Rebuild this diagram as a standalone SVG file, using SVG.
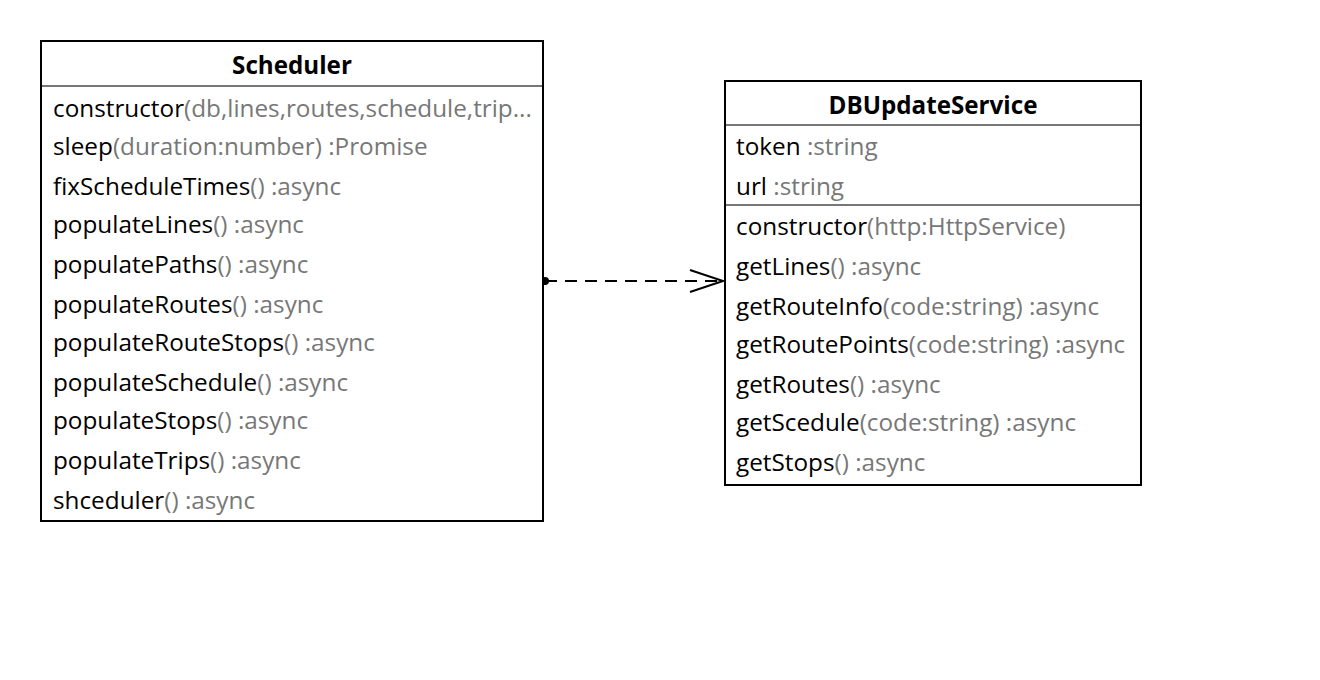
<svg xmlns="http://www.w3.org/2000/svg" width="1320" height="680" viewBox="0 0 1320 680">
<defs>
<style>
.box{fill:#fff;stroke:#000;stroke-width:2}
.sep{stroke:#777;stroke-width:2}
.t{font-family:"Open Sans","Noto Sans",sans-serif;font-size:24.3px;fill:#000}
.title{font-family:"Open Sans","Noto Sans",sans-serif;font-size:24.2px;font-weight:bold;fill:#000;text-anchor:middle}
.g{fill:#777}
</style>
<marker id="open" markerWidth="40" markerHeight="30" refX="34" refY="12" orient="auto" markerUnits="userSpaceOnUse">
<path d="M1,1 L34,12 L1,23" fill="none" stroke="#000" stroke-width="2"/>
</marker>
</defs>
<rect width="1320" height="680" fill="#fff"/>
<g id="connectors">
<path d="M545,281 L723,281" fill="none" stroke="#000" stroke-width="2" stroke-dasharray="12,8" marker-end="url(#open)"/>
<circle cx="545" cy="281" r="4" fill="#000"/>
</g>
<g id="Scheduler">
<rect class="box" x="41" y="41" width="502" height="480"/>
<line class="sep" x1="42" y1="86" x2="542" y2="86"/>
<text class="title" x="292" y="74">Scheduler</text>
<text class="t" x="53" y="117">constructor<tspan class="g">(db,lines,routes,schedule,trip...</tspan></text>
<text class="t" x="53" y="155">sleep<tspan class="g">(duration:number) :Promise</tspan></text>
<text class="t" x="53" y="195">fixScheduleTimes<tspan class="g">() :async</tspan></text>
<text class="t" x="53" y="233">populateLines<tspan class="g">() :async</tspan></text>
<text class="t" x="53" y="273">populatePaths<tspan class="g">() :async</tspan></text>
<text class="t" x="53" y="313">populateRoutes<tspan class="g">() :async</tspan></text>
<text class="t" x="53" y="351">populateRouteStops<tspan class="g">() :async</tspan></text>
<text class="t" x="53" y="391">populateSchedule<tspan class="g">() :async</tspan></text>
<text class="t" x="53" y="429">populateStops<tspan class="g">() :async</tspan></text>
<text class="t" x="53" y="469">populateTrips<tspan class="g">() :async</tspan></text>
<text class="t" x="53" y="509">shceduler<tspan class="g">() :async</tspan></text>
</g>
<g id="DBUpdateService">
<rect class="box" x="725" y="81" width="416" height="404"/>
<line class="sep" x1="726" y1="125" x2="1140" y2="125"/>
<line class="sep" x1="726" y1="205" x2="1140" y2="205"/>
<text class="title" x="933" y="114">DBUpdateService</text>
<text class="t" x="736" y="155">token<tspan class="g"> :string</tspan></text>
<text class="t" x="736" y="195">url<tspan class="g"> :string</tspan></text>
<text class="t" x="736" y="235">constructor<tspan class="g">(http:HttpService)</tspan></text>
<text class="t" x="736" y="275">getLines<tspan class="g">() :async</tspan></text>
<text class="t" x="736" y="315">getRouteInfo<tspan class="g">(code:string) :async</tspan></text>
<text class="t" x="736" y="353">getRoutePoints<tspan class="g">(code:string) :async</tspan></text>
<text class="t" x="736" y="393">getRoutes<tspan class="g">() :async</tspan></text>
<text class="t" x="736" y="431">getScedule<tspan class="g">(code:string) :async</tspan></text>
<text class="t" x="736" y="471">getStops<tspan class="g">() :async</tspan></text>
</g>
</svg>
